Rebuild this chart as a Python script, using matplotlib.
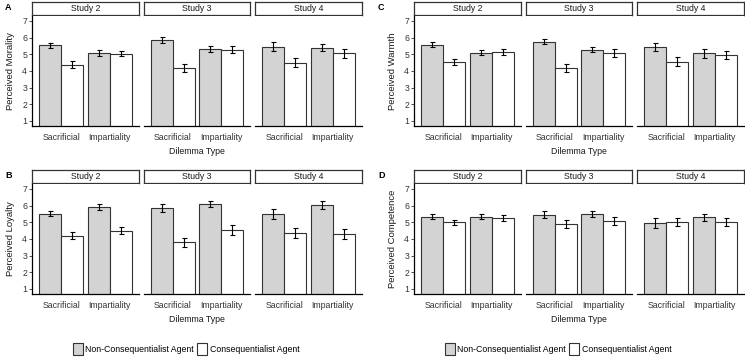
import numpy as np
import matplotlib
matplotlib.use('Agg')
import matplotlib.pyplot as plt
from matplotlib.patches import Patch

plt.rcParams['font.family'] = ['Liberation Sans', 'DejaVu Sans']

studies = ['Study 2', 'Study 3', 'Study 4']
dilemmas = ['Sacrificial', 'Impartiality']
agents = ['Non-Consequentialist Agent', 'Consequentialist Agent']

# means [study][dilemma], errors as half-width of error bars
morality_nc = [[5.54, 5.08], [5.86, 5.32], [5.46, 5.40]]
morality_c = [[4.38, 5.04], [4.18, 5.28], [4.48, 5.06]]
morality_nc_err = [[0.14, 0.16], [0.17, 0.18], [0.26, 0.21]]
morality_c_err = [[0.19, 0.16], [0.24, 0.21], [0.27, 0.26]]

loyalty_nc = [[5.52, 5.92], [5.84, 6.10], [5.50, 6.04]]
loyalty_c = [[4.18, 4.50], [3.80, 4.54], [4.36, 4.30]]
loyalty_nc_err = [[0.15, 0.15], [0.23, 0.16], [0.28, 0.26]]
loyalty_c_err = [[0.21, 0.20], [0.27, 0.29], [0.30, 0.30]]

warmth_nc = [[5.58, 5.10], [5.76, 5.28], [5.44, 5.06]]
warmth_c = [[4.54, 5.14], [4.18, 5.10], [4.56, 4.96]]
warmth_nc_err = [[0.13, 0.15], [0.15, 0.17], [0.23, 0.26]]
warmth_c_err = [[0.16, 0.15], [0.23, 0.23], [0.25, 0.24]]

competence_nc = [[5.34, 5.34], [5.46, 5.48], [4.98, 5.30]]
competence_c = [[4.99, 5.26], [4.90, 5.06], [4.99, 4.99]]
competence_nc_err = [[0.15, 0.15], [0.22, 0.18], [0.30, 0.21]]
competence_c_err = [[0.16, 0.18], [0.26, 0.24], [0.24, 0.24]]

W, H = 745, 359
fig = plt.figure(figsize=(W / 100, H / 100), dpi=100)

fs = 6.3
txt_col = '#333333'
fill_nc = '#D3D3D3'
fill_c = 'white'
edge = '#333333'


def px(x0, y0, x1, y1):
    return [x0 / W, 1 - y1 / H, (x1 - x0) / W, (y1 - y0) / H]


def draw_block(letter, ylabel, nc, c, nc_err, c_err, xoff, ytop, letter_x):
    panels = [(32, 139), (144, 250), (255, 362)]
    x = np.arange(len(dilemmas))
    for i, (a, b) in enumerate(panels):
        sax = fig.add_axes(px(a + xoff, ytop, b + xoff, ytop + 13))
        sax.set_xticks([])
        sax.set_yticks([])
        for s in sax.spines.values():
            s.set_color('#333333')
            s.set_linewidth(0.9)
        sax.text(0.5, 0.5, studies[i], ha='center', va='center',
                 fontsize=fs, color='#1a1a1a', transform=sax.transAxes)

        ax = fig.add_axes(px(a + xoff, ytop + 14, b + xoff, ytop + 124))
        ax.bar(x - 0.225, nc[i], 0.45, color=fill_nc, edgecolor=edge, linewidth=0.8)
        ax.bar(x + 0.225, c[i], 0.45, color=fill_c, edgecolor=edge, linewidth=0.8)
        ax.errorbar(x - 0.225, nc[i], yerr=nc_err[i], fmt='none', ecolor='black',
                    elinewidth=0.8, capsize=1.8, capthick=0.8)
        ax.errorbar(x + 0.225, c[i], yerr=c_err[i], fmt='none', ecolor='black',
                    elinewidth=0.8, capsize=1.8, capthick=0.8)
        ax.set_xlim(-0.6, 1.6)
        ax.set_ylim(0.7, 7.3)
        ax.spines['top'].set_visible(False)
        ax.spines['right'].set_visible(False)
        ax.spines['bottom'].set_linewidth(0.9)
        ax.set_xticks(x)
        ax.set_xticklabels(dilemmas, fontsize=fs, color=txt_col)
        ax.tick_params(axis='x', length=0, pad=5)
        if i == 0:
            ax.spines['left'].set_linewidth(0.9)
            ax.set_yticks(range(1, 8))
            ax.tick_params(axis='y', labelsize=fs, colors=txt_col, length=2,
                           width=0.6, pad=1.5)
            ax.set_ylabel(ylabel, fontsize=6.8, color='#1a1a1a', labelpad=5)
        else:
            ax.spines['left'].set_visible(False)
            ax.set_yticks([])
    fig.text((197 + xoff) / W, 1 - (ytop + 149) / H, 'Dilemma Type', ha='center',
             va='center', fontsize=fs, color='#1a1a1a')
    fig.text(letter_x / W, 1 - (ytop + 5) / H, letter, ha='left', va='center',
             fontsize=6.5, fontweight='bold')


draw_block('A', 'Perceived Morality', morality_nc, morality_c,
           morality_nc_err, morality_c_err, 0, 2, 5)
draw_block('B', 'Perceived Loyalty', loyalty_nc, loyalty_c,
           loyalty_nc_err, loyalty_c_err, 0, 170, 5)
draw_block('C', 'Perceived Warmth', warmth_nc, warmth_c,
           warmth_nc_err, warmth_c_err, 382, 2, 378)
draw_block('D', 'Perceived Competence', competence_nc, competence_c,
           competence_nc_err, competence_c_err, 382, 170, 378)

handles = [Patch(facecolor=fill_nc, edgecolor=edge, linewidth=0.8),
           Patch(facecolor=fill_c, edgecolor=edge, linewidth=0.8)]
for cx in [186, 558]:
    fig.legend(handles, agents, loc='center', bbox_to_anchor=(cx / W, 1 - 349 / H),
               ncol=2, frameon=False, fontsize=fs, handlelength=1.1,
               handleheight=1.6, handletextpad=0.3, columnspacing=0.4,
               borderaxespad=0)

fig.savefig('out.png', dpi=100)
